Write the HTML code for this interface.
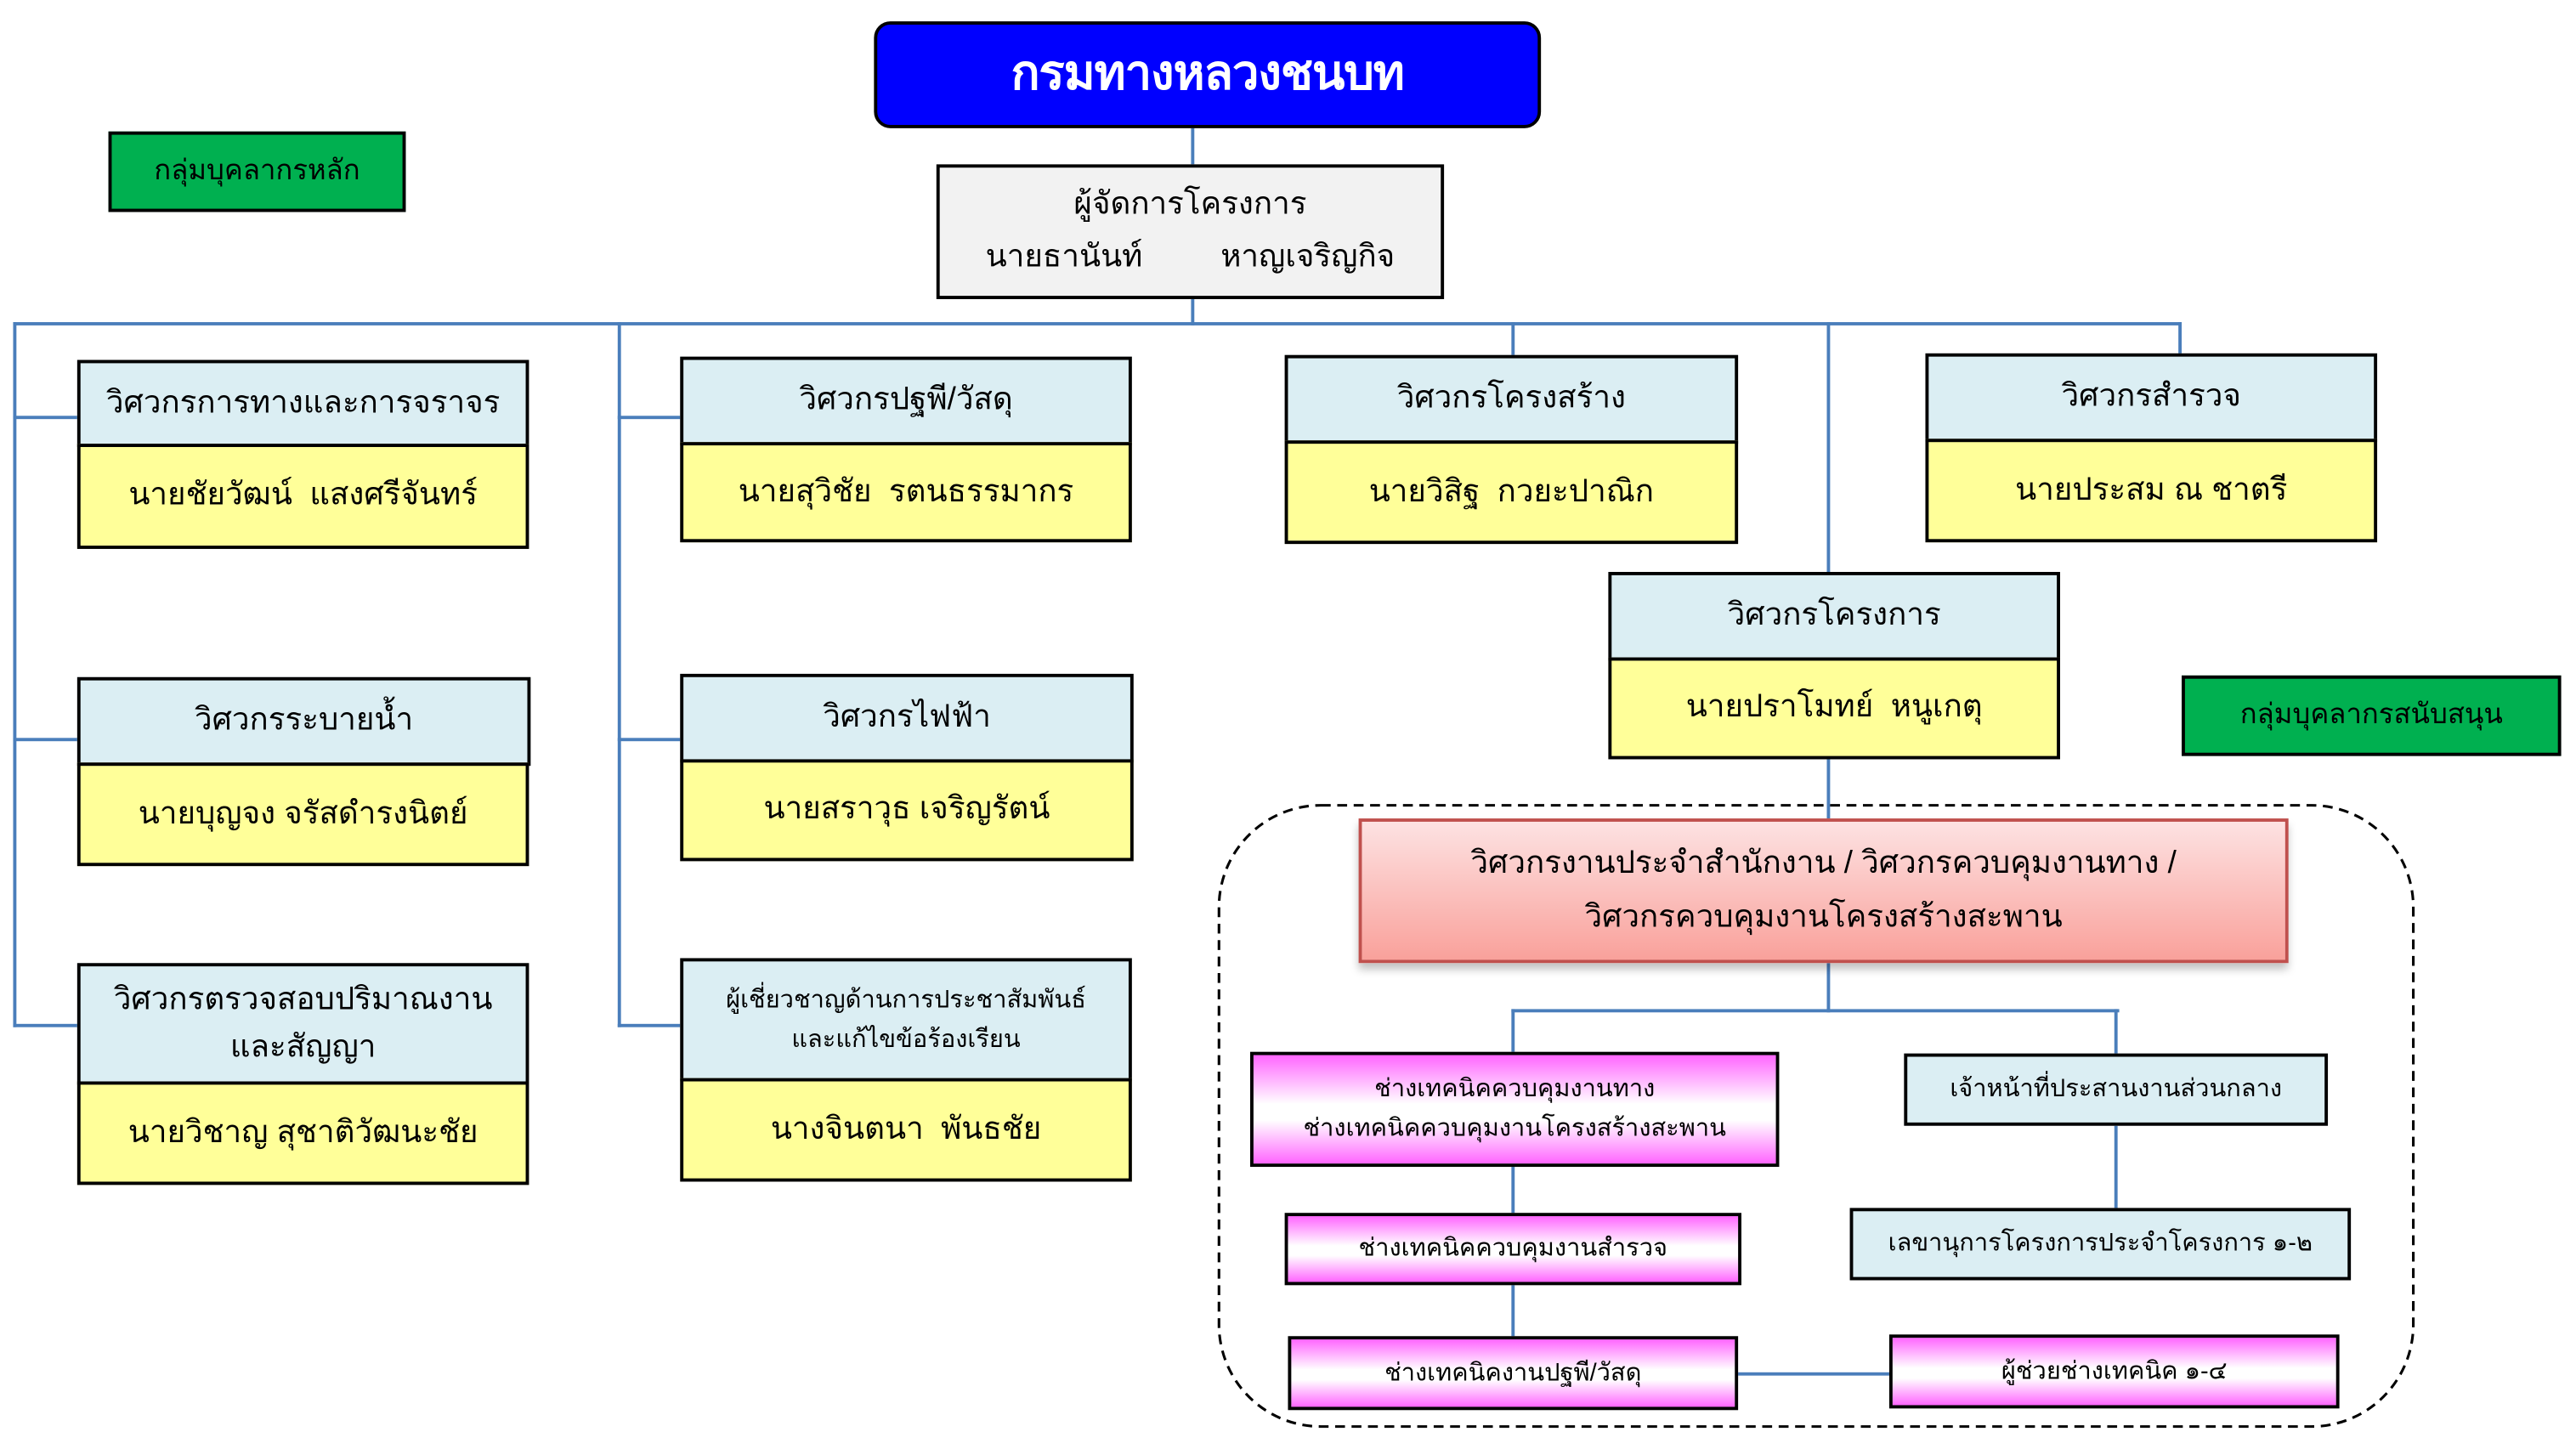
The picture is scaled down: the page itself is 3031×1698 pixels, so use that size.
<!DOCTYPE html>
<html><head><meta charset="utf-8">
<style>
html,body{margin:0;padding:0;background:#fff;}
body{width:3031px;height:1698px;overflow:hidden;position:relative;}
#c{position:absolute;left:0;top:0;width:1568px;height:878px;transform:scale(1.9330,1.9339);transform-origin:0 0;font-family:"Liberation Sans","DejaVu Sans",sans-serif;}
.b{position:absolute;box-sizing:border-box;border:2px solid #000;display:flex;align-items:center;justify-content:center;text-align:center;color:#000;font-size:19px;line-height:1.55;}
.h{background:#dbeef3;}
.y{background:#ffff99;}
.g{background:#00b050;font-size:17px;}
.m{background:linear-gradient(#ff66ff 0%,#fff 45%,#fff 60%,#ff66ff 100%);font-size:15px;line-height:1.6;}
.l{position:absolute;background:#4a7ebb;}
</style></head><body><div id="c">
<!-- lines -->
<div class="l" style="left:725px;top:78px;width:2px;height:22px"></div>
<div class="l" style="left:725px;top:182px;width:2px;height:16px"></div>
<div class="l" style="left:8px;top:196px;width:1320px;height:2px"></div>
<div class="l" style="left:8px;top:196px;width:2px;height:429px"></div>
<div class="l" style="left:8px;top:253px;width:39px;height:2px"></div>
<div class="l" style="left:8px;top:449px;width:39px;height:2px"></div>
<div class="l" style="left:8px;top:623px;width:39px;height:2px"></div>
<div class="l" style="left:376px;top:196px;width:2px;height:429px"></div>
<div class="l" style="left:376px;top:253px;width:38px;height:2px"></div>
<div class="l" style="left:376px;top:449px;width:38px;height:2px"></div>
<div class="l" style="left:376px;top:623px;width:38px;height:2px"></div>
<div class="l" style="left:920px;top:196px;width:2px;height:21px"></div>
<div class="l" style="left:1326px;top:196px;width:2px;height:20px"></div>
<div class="l" style="left:1112px;top:196px;width:2px;height:152px"></div>
<div class="l" style="left:1112px;top:462px;width:2px;height:36px"></div>
<div class="l" style="left:1112px;top:586px;width:2px;height:30px"></div>
<div class="l" style="left:920px;top:614px;width:370px;height:2px"></div>
<div class="l" style="left:920px;top:614px;width:2px;height:26px"></div>
<div class="l" style="left:1287px;top:614px;width:2px;height:27px"></div>
<div class="l" style="left:1287px;top:685px;width:2px;height:50px"></div>
<div class="l" style="left:920px;top:710px;width:2px;height:28px"></div>
<div class="l" style="left:920px;top:782px;width:2px;height:31px"></div>
<div class="l" style="left:1058px;top:835px;width:92px;height:2px"></div>
<!-- dashed group -->
<svg style="position:absolute;left:740px;top:488px" width="732" height="383"><rect x="2" y="2" width="727" height="378" rx="62" ry="62" fill="none" stroke="#000" stroke-width="1.6" stroke-dasharray="6,4"/></svg>

<div class="b" style="left:532px;top:13px;width:406px;height:65px;background:#0000ff;border-radius:10px;color:#fff;font-weight:bold;font-size:29px;letter-spacing:-0.5px;">กรมทางหลวงชนบท</div>
<div class="b g" style="left:66px;top:80px;width:181px;height:49px;">กลุ่มบุคลากรหลัก</div>
<div class="b" style="left:570px;top:100px;width:309px;height:82px;background:#f2f2f2;flex-direction:column;line-height:1.7;">
<div>ผู้จัดการโครงการ</div><div>นายธานันท์&nbsp;&nbsp;&nbsp;&nbsp;&nbsp;&nbsp;&nbsp;&nbsp;&nbsp;หาญเจริญกิจ</div></div>

<div class="b h" style="left:47px;top:219px;width:275px;height:53px;">วิศวกรการทางและการจราจร</div>
<div class="b y" style="left:47px;top:270px;width:275px;height:64px;">นายชัยวัฒน์&nbsp; แสงศรีจันทร์</div>
<div class="b h" style="left:47px;top:412px;width:276px;height:54px;">วิศวกรระบายน้ำ</div>
<div class="b y" style="left:47px;top:464px;width:275px;height:63px;">นายบุญจง จรัสดำรงนิตย์</div>
<div class="b h" style="left:47px;top:586px;width:275px;height:74px;">วิศวกรตรวจสอบปริมาณงาน<br>และสัญญา</div>
<div class="b y" style="left:47px;top:658px;width:275px;height:63px;">นายวิชาญ สุชาติวัฒนะชัย</div>

<div class="b h" style="left:414px;top:217px;width:275px;height:54px;">วิศวกรปฐพี/วัสดุ</div>
<div class="b y" style="left:414px;top:269px;width:275px;height:61px;">นายสุวิชัย&nbsp; รตนธรรมากร</div>
<div class="b h" style="left:414px;top:410px;width:276px;height:54px;">วิศวกรไฟฟ้า</div>
<div class="b y" style="left:414px;top:462px;width:276px;height:62px;">นายสราวุธ เจริญรัตน์</div>
<div class="b h" style="left:414px;top:583px;width:275px;height:75px;font-size:15px;">ผู้เชี่ยวชาญด้านการประชาสัมพันธ์<br>และแก้ไขข้อร้องเรียน</div>
<div class="b y" style="left:414px;top:656px;width:275px;height:63px;">นางจินตนา&nbsp; พันธชัย</div>

<div class="b h" style="left:782px;top:216px;width:276px;height:54px;">วิศวกรโครงสร้าง</div>
<div class="b y" style="left:782px;top:268px;width:276px;height:63px;">นายวิสิฐ&nbsp; กวยะปาณิก</div>
<div class="b h" style="left:1172px;top:215px;width:275px;height:54px;">วิศวกรสำรวจ</div>
<div class="b y" style="left:1172px;top:267px;width:275px;height:63px;">นายประสม ณ ชาตรี</div>

<div class="b h" style="left:979px;top:348px;width:275px;height:54px;">วิศวกรโครงการ</div>
<div class="b y" style="left:979px;top:400px;width:275px;height:62px;">นายปราโมทย์&nbsp; หนูเกตุ</div>
<div class="b g" style="left:1328px;top:411px;width:231px;height:49px;">กลุ่มบุคลากรสนับสนุน</div>

<div class="b" style="left:827px;top:498px;width:566px;height:88px;border-color:#c0504d;background:linear-gradient(#fde2e2,#f9a19b);box-shadow:0 4px 5px rgba(0,0,0,0.25);font-size:19px;line-height:1.75;">วิศวกรงานประจำสำนักงาน / วิศวกรควบคุมงานทาง /<br>วิศวกรควบคุมงานโครงสร้างสะพาน</div>

<div class="b m" style="left:761px;top:640px;width:322px;height:70px;">ช่างเทคนิคควบคุมงานทาง<br>ช่างเทคนิคควบคุมงานโครงสร้างสะพาน</div>
<div class="b h" style="left:1159px;top:641px;width:258px;height:44px;font-size:15px;">เจ้าหน้าที่ประสานงานส่วนกลาง</div>
<div class="b h" style="left:1126px;top:735px;width:305px;height:44px;font-size:15px;">เลขานุการโครงการประจำโครงการ ๑-๒</div>
<div class="b m" style="left:782px;top:738px;width:278px;height:44px;">ช่างเทคนิคควบคุมงานสำรวจ</div>
<div class="b m" style="left:784px;top:813px;width:274px;height:45px;">ช่างเทคนิคงานปฐพี/วัสดุ</div>
<div class="b m" style="left:1150px;top:812px;width:274px;height:45px;">ผู้ช่วยช่างเทคนิค ๑-๔</div>
</div></body></html>
